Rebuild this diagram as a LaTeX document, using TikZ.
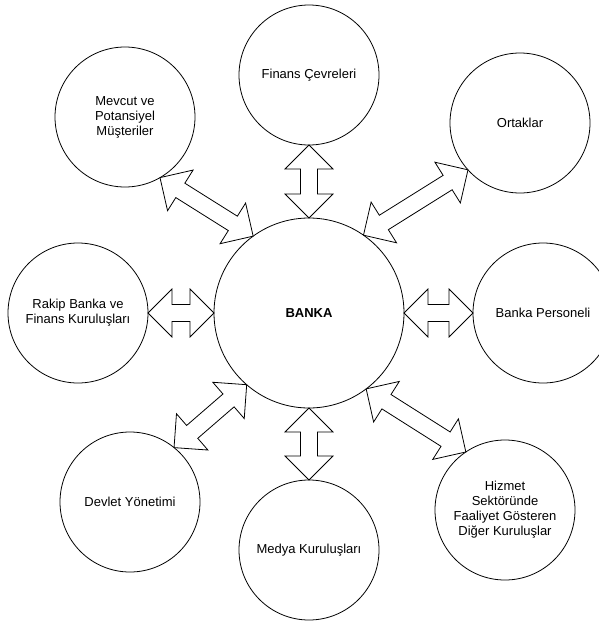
\documentclass[tikz,border=0pt]{standalone}
\usepackage{fontspec}
\setmainfont{Liberation Sans}
\usetikzlibrary{calc}

% cift yonlu blok ok: #1 ucundan #2 ucuna
\newcommand{\ciftok}[2]{%
  \coordinate (hA) at ($(#1)!24pt!(#2)$);
  \coordinate (hB) at ($(#2)!24pt!(#1)$);
  \draw[okcizgi]
    (#1) -- ($(hA)!24pt!90:(#2)$) -- ($(hA)!8.5pt!90:(#2)$)
    -- ($(hB)!8.5pt!-90:(#1)$) -- ($(hB)!24pt!-90:(#1)$)
    -- (#2) -- ($(hB)!24pt!90:(#1)$) -- ($(hB)!8.5pt!90:(#1)$)
    -- ($(hA)!8.5pt!-90:(#2)$) -- ($(hA)!24pt!-90:(#2)$) -- cycle;
}

\begin{document}
\begin{tikzpicture}[x=1pt,y=-1pt,
  font=\fontsize{13}{15}\selectfont,
  kurum/.style={circle,draw,line width=0.8pt,minimum size=140pt,
    inner sep=0pt,outer sep=0pt,align=center},
  okcizgi/.style={draw,fill=white,line width=0.8pt,line join=miter}]
  \useasboundingbox (0,0) rectangle (599,624);

  % ---------- daireler ----------
  \node[kurum,minimum size=190pt,font=\fontsize{13}{15}\selectfont\bfseries]
    (banka) at (309,313) {BANKA};
  \node[kurum] (finans)   at (309,75)  {Finans Çevreleri};
  \node[kurum] (mevcut)   at (125,117) {Mevcut ve\\Potansiyel\\Müşteriler};
  \node[kurum] (ortak)    at (520,123) {Ortaklar};
  \node[kurum] (rakip)    at (78,313)  {Rakip Banka ve\\Finans Kuruluşları};
  \node[kurum] (personel) at (543,313) {Banka Personeli};
  \node[kurum] (devlet)   at (130,502) {Devlet Yönetimi};
  \node[kurum] (medya)    at (309,550) {Medya Kuruluşları};
  \node[kurum] (hizmet)   at (505,510) {Hizmet\\Sektöründe\\Faaliyet Gösteren\\Diğer Kuruluşlar};

  % ---------- oklar ----------
  \foreach \a/\b in {finans.270/banka.90, medya.90/banka.270,
      rakip.0/banka.180, personel.180/banka.0,
      mevcut.-60/banka.126, ortak.222/banka.55,
      hizmet.124/banka.-53, devlet.51/banka.229}
    \ciftok{\a}{\b};
\end{tikzpicture}
\end{document}
